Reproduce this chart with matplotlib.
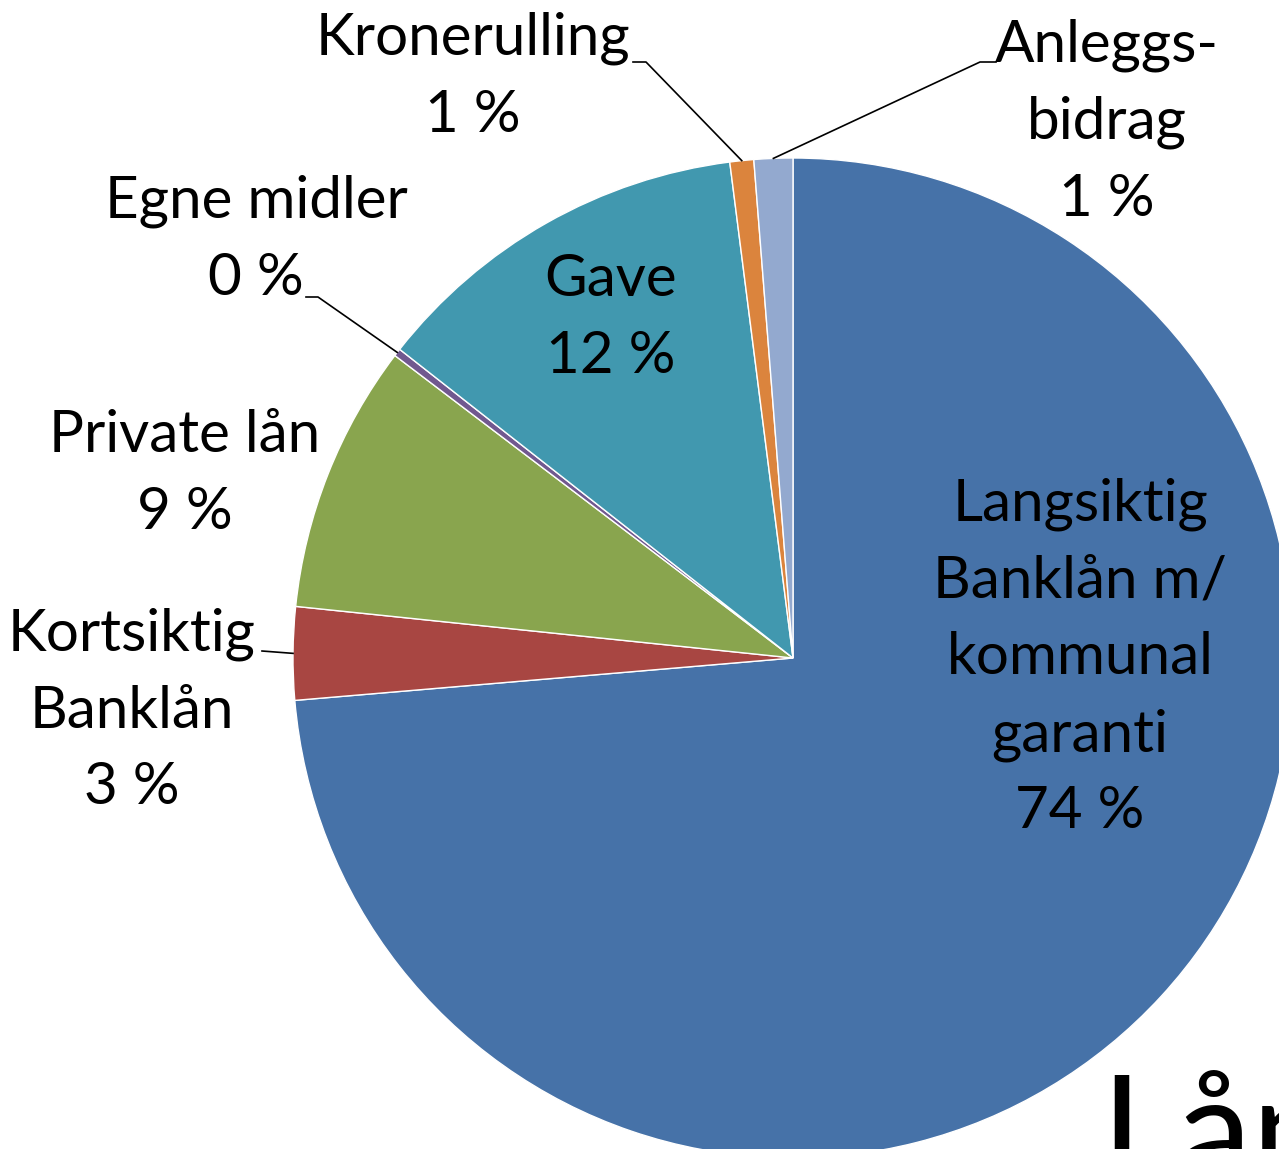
import numpy as np
import matplotlib
matplotlib.use("Agg")
import matplotlib.pyplot as plt

plt.rcParams['font.family'] = ['Lato', 'DejaVu Sans']

categories = ["Langsiktig\nBanklån m/\nkommunal\ngaranti", "Kortsiktig\nBanklån", "Private lån",
              "Egne midler", "Gave", "Kronerulling", "Anleggs-\nbidrag"]
values = [73.7, 3.0, 8.7, 0.25, 12.4, 0.77, 1.25]
pct_labels = ["74 %", "3 %", "9 %", "0 %", "12 %", "1 %", "1 %"]
colors = ["#4672A8", "#A84642", "#89A54E", "#71588F", "#4198AF", "#DB843D", "#93A9CF"]

W, H = 1279, 1149
CX, CY, R = 793, 658, 500

def px(x, y):
    return ((x - CX) / R, (CY - y) / R)

fig = plt.figure(figsize=(W / 100, H / 100), dpi=100)
ax = fig.add_axes([0, 0, 1, 1])
wedges, _ = ax.pie(values, colors=colors, startangle=90, counterclock=False,
                   wedgeprops=dict(edgecolor="white", linewidth=1.0))
ax.set_xlim(-CX / R, (W - CX) / R)
ax.set_ylim((CY - H) / R, CY / R)
ax.axis("off")

fs = 42
# label positions (pixel centres) -- layout only
label_pos = [(1080, 658), (132, 711), (185, 474), (256, 240), (611, 318), (473, 77), (1107, 122)]
for cat, pct, (lx, ly) in zip(categories, pct_labels, label_pos):
    x, y = px(lx, ly)
    ax.text(x, y, f"{cat}\n{pct}", ha="center", va="center", multialignment="center",
            fontsize=fs, linespacing=1.55, color="black")

def edge_point(w):
    ang = np.deg2rad((w.theta1 + w.theta2) / 2)
    return np.cos(ang), np.sin(ang)

leaders = {1: [(262, 651)], 3: [(306, 297), (318, 297)], 5: [(633, 62), (646, 62)],
           6: [(996, 62), (980, 62)]}
for i, pts in leaders.items():
    xs = [px(*p)[0] for p in pts]
    ys = [px(*p)[1] for p in pts]
    ex, ey = edge_point(wedges[i])
    xs.append(ex); ys.append(ey)
    ax.plot(xs, ys, color="black", lw=1.2)

# partly visible title
tx, ty = px(1100, 1182)
ax.text(tx, ty, "Lån", fontsize=108, ha="left", va="baseline", color="black")

fig.savefig("out.png", dpi=100)
